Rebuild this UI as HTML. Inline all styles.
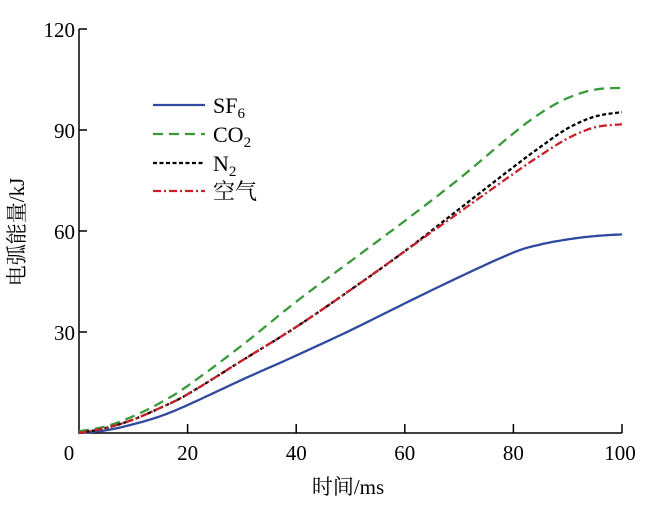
<!DOCTYPE html>
<html><head><meta charset="utf-8"><style>
body{margin:0;background:#fff;}
svg{display:block;font-family:"Liberation Serif","Noto Serif CJK SC",serif;}
</style></head><body>
<svg id="s" width="650" height="508" viewBox="0 0 650 508" xmlns="http://www.w3.org/2000/svg">
<g stroke="#000" stroke-width="1.5" fill="none">
<path d="M79,29 L79,433 L622,433"/>
<path d="M79,29h8M79,130h8M79,231h8M79,332h8"/>
<path d="M187.6,433v-9M296.2,433v-9M404.8,433v-9M513.4,433v-9M622,433v-9"/>
</g>
<g font-size="21" fill="#000" text-anchor="end">
<text x="75" y="37">120</text><text x="75" y="138">90</text><text x="75" y="239">60</text><text x="75" y="340">30</text>
</g>
<g font-size="21" fill="#000" text-anchor="middle">
<text x="69" y="460">0</text><text x="187.6" y="460">20</text><text x="296.2" y="460">40</text><text x="404.8" y="460">60</text><text x="513.4" y="460">80</text><text x="620" y="460">100</text>
<text x="348" y="494" font-size="21">时间/ms</text>
<text transform="translate(24,232) rotate(-90)" font-size="21">电弧能量/kJ</text>
</g>
<g id="lines" fill="none" stroke-width="2.3"></g>
<g stroke-width="2.3">
<line x1="153" y1="105" x2="205" y2="105" stroke="#2e4a9e"/>
<line x1="153" y1="134" x2="205" y2="134" stroke="#3a9a3a" stroke-dasharray="10,6"/>
<line x1="153" y1="163" x2="205" y2="163" stroke="#000" stroke-dasharray="4,2.5"/>
<line x1="153" y1="191" x2="205" y2="191" stroke="#c8202a" stroke-dasharray="8,3,2,3"/>
</g>
<g font-size="22" fill="#000">
<text x="213" y="113">SF<tspan font-size="15" dy="5">6</tspan></text>
<text x="213" y="142">CO<tspan font-size="15" dy="5">2</tspan></text>
<text x="213" y="171">N<tspan font-size="15" dy="5">2</tspan></text>
<text x="213" y="199">空气</text>
</g>
</svg>
<script>
var X=function(t){return 79+t*5.43},Y=function(v){return 433-v*101/30};
var series=[
 {c:"#2e4a9e",d:"",p:[[0,0],[5,0.8],[10,2.6],[15,5],[20,8.3],[30,15.8],[40,23],[50,30.5],[60,38.5],[70,46.3],[80,53.6],[85,56],[90,57.5],[95,58.5],[100,59]]},
 {c:"#3a9a3a",d:"10,6",p:[[0,0.5],[5,2],[10,5],[15,9],[20,14],[30,26],[40,39],[50,51],[60,63],[70,75.5],[80,89],[85,95],[90,99.5],[95,102],[100,102.5]]},
 {c:"#000",d:"4,2.5",p:[[0,0],[5,1.5],[10,4],[15,7.5],[20,11.5],[30,21.5],[40,31.5],[50,42.5],[60,54],[70,66.5],[80,79],[85,85],[90,90.5],[95,94],[100,95.3]]},
 {c:"#c8202a",d:"8,3,2,3",p:[[0,0],[5,1.5],[10,4],[15,7.5],[20,11.5],[30,21.5],[40,31.5],[50,42.5],[60,54],[70,65.5],[80,77],[85,82.5],[90,87.5],[95,90.8],[100,91.7]]}
];
var g=document.getElementById("lines"),ns="http://www.w3.org/2000/svg";
series.forEach(function(s){
 var p=s.p,d="M"+X(p[0][0])+","+Y(p[0][1]);
 for(var i=0;i<p.length-1;i++){
  var p0=p[i-1]||p[i],p1=p[i],p2=p[i+1],p3=p[i+2]||p[i+1];
  for(var k=1;k<=10;k++){var t=k/10,t2=t*t,t3=t2*t;
   var f=function(a,b,c,e){return 0.5*(2*b+(-a+c)*t+(2*a-5*b+4*c-e)*t2+(-a+3*b-3*c+e)*t3)};
   d+=" L"+X(f(p0[0],p1[0],p2[0],p3[0])).toFixed(1)+","+Y(f(p0[1],p1[1],p2[1],p3[1])).toFixed(1);}
 }
 var e=document.createElementNS(ns,"path");e.setAttribute("d",d);e.setAttribute("stroke",s.c);
 if(s.d)e.setAttribute("stroke-dasharray",s.d);g.appendChild(e);
});
</script>
</body></html>
